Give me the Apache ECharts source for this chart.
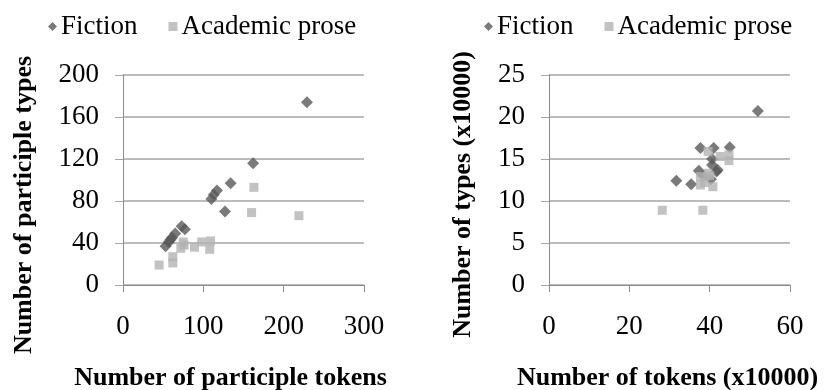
<!DOCTYPE html>
<html><head><meta charset="utf-8">
<script src="https://cdn.jsdelivr.net/npm/echarts@6/dist/echarts.min.js"></script>
<style>html,body{margin:0;padding:0;background:#fff}#c{width:826px;height:390px}</style>
</head><body><div id="c"></div>
<script>
const seriesNames = ['Fiction', 'Academic prose'];
const leftXTicks = [0, 100, 200, 300];
const leftYTicks = [0, 40, 80, 120, 160, 200];
const rightXTicks = [0, 20, 40, 60];
const rightYTicks = [0, 5, 10, 15, 20, 25];
const leftFiction = [[229,174],[162,116],[134,97],[117,90],[113,86],[110,82],[127,70],[73,56],[77,53],[65,49],[61,45],[57,41],[53,37],[59,43]];
const leftAcademic = [[163,93],[160,69],[219,66],[45,19],[62,27],[62,21],[75,41],[72,35],[89,36],[98,41],[109,42],[108,34],[76,38]];
const rightFiction = [[52,20.7],[31.7,12.4],[35.4,12.0],[37.7,16.3],[41,16.3],[45,16.4],[37.3,13.6],[40.6,14.3],[41.7,13.5],[40.6,15],[40.3,12.6],[38.5,13],[42,13.7]];
const rightAcademic = [[28.2,8.9],[38.3,8.9],[39.6,15.9],[42.6,15.3],[44.8,15.5],[44.8,14.8],[37.7,11.9],[40.8,11.7],[37.7,12.9],[39.6,13.3],[38.7,12.2],[40,13]];

const FONT = 'Liberation Serif';
const C_F = '#595959', C_A = '#b3b3b3';
const gridC = '#a6a6a6', axisC = '#8c8c8c';

function xAxis(idx, ticks, name, pad) {
  return {
    type: 'value', gridIndex: idx, min: ticks[0], max: ticks[ticks.length-1],
    interval: ticks[1]-ticks[0],
    name: name, nameLocation: 'middle', nameGap: 80,
    nameTextStyle: {fontFamily: FONT, fontSize: 26, fontWeight: 'bold', color: '#000', padding: pad},
    axisLine: {show: true, lineStyle: {color: axisC, width: 1}},
    axisTick: {show: true, length: 7, lineStyle: {color: axisC}},
    axisLabel: {fontFamily: FONT, fontSize: 27, color: '#000', margin: 28},
    splitLine: {show: false}
  };
}
function yAxis(idx, ticks, name, gap, pad) {
  return {
    type: 'value', gridIndex: idx, min: ticks[0], max: ticks[ticks.length-1],
    interval: ticks[1]-ticks[0],
    name: name, nameLocation: 'middle', nameGap: gap, nameRotate: 90,
    nameTextStyle: {fontFamily: FONT, fontSize: 26, fontWeight: 'bold', color: '#000', padding: pad},
    axisLine: {show: true, lineStyle: {color: axisC, width: 1}},
    axisTick: {show: true, length: 8, lineStyle: {color: gridC}},
    axisLabel: {fontFamily: FONT, fontSize: 27, color: '#000', margin: 24},
    splitLine: {show: true, lineStyle: {color: gridC, width: 1.5}}
  };
}
function legend(left, gi) {
  return {
    left: left, top: 8, itemGap: 31, itemWidth: 9, itemHeight: 9,
    textStyle: {fontFamily: FONT, fontSize: 27, color: '#000', padding: [0,0,0,-1]},
    data: [
      {name: seriesNames[0] + (gi ? ' ' : ''), icon: 'diamond', itemStyle: {color: C_F}},
      {name: seriesNames[1] + (gi ? ' ' : ''), icon: 'rect', itemStyle: {color: C_A}}
    ],
    formatter: n => n.trim()
  };
}
const chart = echarts.init(document.getElementById('c'));
chart.setOption({
  animation: false,
  legend: [legend(43, 0), legend(479, 1)],
  grid: [
    {left: 123, right: 462, top: 75, bottom: 105, containLabel: false, outerBoundsMode: 'none'},
    {left: 549, right: 36, top: 75, bottom: 105, containLabel: false, outerBoundsMode: 'none'}
  ],
  xAxis: [xAxis(0, leftXTicks, 'Number of participle tokens', [0, 26, 0, 0]),
          xAxis(1, rightXTicks, 'Number of tokens (x10000)', [0, 4, 0, 0])],
  yAxis: [yAxis(0, leftYTicks, 'Number of participle types', 86, [0, 50, 0, 0]),
          yAxis(1, rightYTicks, 'Number of types (x10000)', 73, [0, 29, 0, 0])],
  series: [
    {name: seriesNames[0], type: 'scatter', xAxisIndex: 0, yAxisIndex: 0, data: leftFiction, symbol: 'diamond', symbolSize: 12, itemStyle: {color: C_F}},
    {name: seriesNames[1], type: 'scatter', xAxisIndex: 0, yAxisIndex: 0, data: leftAcademic, symbol: 'rect', symbolSize: 9, itemStyle: {color: C_A}},
    {name: seriesNames[0] + ' ', type: 'scatter', xAxisIndex: 1, yAxisIndex: 1, data: rightFiction, symbol: 'diamond', symbolSize: 12, itemStyle: {color: C_F}},
    {name: seriesNames[1] + ' ', type: 'scatter', xAxisIndex: 1, yAxisIndex: 1, data: rightAcademic, symbol: 'rect', symbolSize: 9, itemStyle: {color: C_A}}
  ]
});
</script></body></html>
